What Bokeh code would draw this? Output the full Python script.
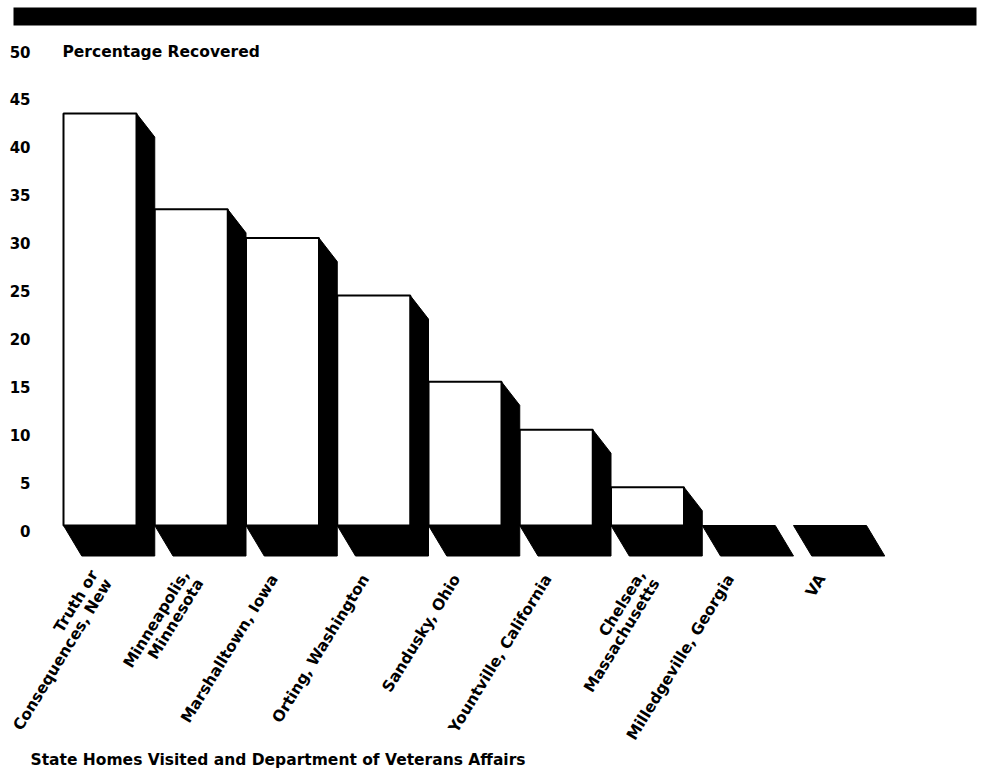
import math
from bokeh.plotting import figure
from bokeh.models import Range1d, BoxAnnotation, ColumnDataSource, LabelSet, Label
from bokeh.embed import file_html
from bokeh.resources import INLINE
from bokeh.core.properties import value

# ---------------- data ----------------
categories = [
    "Truth or\nConsequences, New",
    "Minneapolis,\nMinnesota",
    "Marshalltown, Iowa",
    "Orting, Washington",
    "Sandusky, Ohio",
    "Yountville, California",
    "Chelsea,\nMassachusetts",
    "Milledgeville, Georgia",
    "VA",
]
percent_recovered = [43, 33, 30, 24, 15, 10, 4, 0, 0]
y_ticks = [0, 5, 10, 15, 20, 25, 30, 35, 40, 45, 50]
y_tick_labels = [str(t) for t in y_ticks]
y_title = "Percentage Recovered"
x_title = "State Homes Visited and Department of Veterans Affairs"

# ---------------- layout constants ----------------
W, H = 981, 777
PX = 9.58          # pixels per percentage point
BASE = 525         # pixel row of the bars' front base
PITCH = 91.25      # pixels per category slot
X0 = 63            # pixel of first bar's left edge
FRONT_W = 0.8
DEPTH_X = 0.2
SIDE_DY = 23.5 / PX
FLOOR_DY = 30.5 / PX
LABEL_SHIFT = 5 / PX
FONT = "DejaVu Sans"


def dx(px):
    return (px - X0) / PITCH


def dy(py):
    return (BASE - py) / PX


y_start = dy(H)
y_end = dy(0)

p = figure(width=W, height=H,
           x_range=Range1d(dx(0), dx(W)), y_range=Range1d(y_start, y_end),
           x_axis_location=None, y_axis_location=None,
           toolbar_location=None, output_backend="svg",
           min_border_left=0, min_border_right=0, min_border_top=0, min_border_bottom=0)
p.extra_y_ranges = {"labels": Range1d(y_start + LABEL_SHIFT, y_end + LABEL_SHIFT)}
p.outline_line_color = None
p.background_fill_color = "white"
p.border_fill_color = "white"
for g in p.grid:
    g.visible = False

# y tick labels (on the value scale)
p.text(x=[dx(30)] * len(y_ticks), y=y_ticks, text=y_tick_labels, y_range_name="labels",
       text_align="right", text_baseline="middle", text_font=value(FONT),
       text_font_style="bold", text_font_size="15px", text_color="black")

# top black band
p.add_layout(BoxAnnotation(left=dx(13), right=dx(976), top=dy(7), bottom=dy(25),
                           fill_color="black", fill_alpha=1.0, line_color=None))

# ---------------- bars ----------------
xs, ys = [], []
fl, fr, ft = [], [], []
for i, v in enumerate(percent_recovered):
    x0 = i
    x1 = i + FRONT_W
    if v > 0:
        px = [x0, x1, x1, x1 + DEPTH_X, x1 + DEPTH_X, x0 + DEPTH_X]
        py = [0, 0, v, v - SIDE_DY, -FLOOR_DY, -FLOOR_DY]
        fl.append(x0); fr.append(x1); ft.append(v)
    else:
        px = [x0, x1, x1 + DEPTH_X, x0 + DEPTH_X]
        py = [0, 0, -FLOOR_DY, -FLOOR_DY]
    xs.append(px); ys.append(py)

p.patches(xs, ys, fill_color="black", line_color="black", line_width=1)
p.quad(left=fl, right=fr, bottom=[0] * len(fl), top=ft,
       fill_color="white", line_color="black", line_width=2)

# ---------------- category labels ----------------
ANG = math.radians(58.5)
LH = 16.5
lx, ly, lt, lxo, lyo = [], [], [], [], []
label_y = dy(578)
for i, lab in enumerate(categories):
    lines = lab.split("\n")
    n = len(lines)
    along = 5 if n > 1 else 0
    for k, line in enumerate(lines):
        ox = -4 + along * math.cos(ANG) + k * LH * math.sin(ANG)
        oy_down = -along * math.sin(ANG) + k * LH * math.cos(ANG)
        lx.append(i + FRONT_W / 2)
        ly.append(label_y)
        lt.append(line)
        lxo.append(ox)
        lyo.append(-oy_down)

src = ColumnDataSource(dict(x=lx, y=ly, text=lt, xo=lxo, yo=lyo))
p.add_layout(LabelSet(x="x", y="y", text="text", source=src, x_offset="xo", y_offset="yo",
                      angle=ANG, text_align="right", text_baseline="alphabetic",
                      text_font=value(FONT), text_font_style="bold",
                      text_font_size="15.5px", text_color="black"))

# ---------------- titles ----------------
p.add_layout(Label(x=dx(62), y=50, y_range_name="labels", text=y_title,
                   text_font=FONT, text_font_style="bold", text_font_size="15.5px",
                   text_baseline="middle", text_align="left", text_color="black"))
p.add_layout(Label(x=dx(30), y=dy(759), text=x_title,
                   text_font=FONT, text_font_style="bold", text_font_size="15.5px",
                   text_baseline="alphabetic", text_align="left", text_color="black"))

open("out.html", "w").write(file_html(p, INLINE))
